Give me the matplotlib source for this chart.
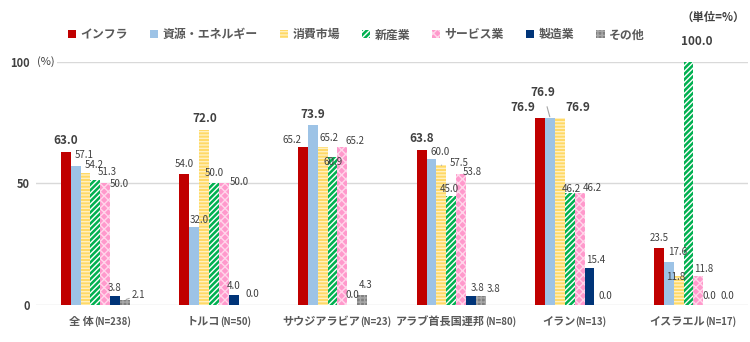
import matplotlib
matplotlib.use("Agg")
import matplotlib.pyplot as plt
from matplotlib.patches import Patch
from matplotlib.offsetbox import TextArea, HPacker, AnnotationBbox
import numpy as np

plt.rcParams['font.family'] = ['Noto Sans CJK JP', 'DejaVu Sans']
plt.rcParams['hatch.linewidth'] = 1.0

cat_names = ["全 体", "トルコ", "サウジアラビア", "アラブ首長国連邦", "イラン", "イスラエル"]
cat_n = ["(N=238)", "(N=50)", "(N=23)", "(N=80)", "(N=13)", "(N=17)"]
series = ["インフラ", "資源・エネルギー", "消費市場", "新産業", "サービス業", "製造業", "その他"]
infra = [63.0, 54.0, 65.2, 63.8, 76.9, 23.5]
resource = [57.1, 32.0, 73.9, 60.0, 76.9, 17.6]
consumer = [54.2, 72.0, 65.2, 57.5, 76.9, 11.8]
newind = [51.3, 50.0, 60.9, 45.0, 46.2, 100.0]
service = [50.0, 50.0, 65.2, 53.8, 46.2, 11.8]
manuf = [3.8, 4.0, 0.0, 3.8, 15.4, 0.0]
other = [2.1, 0.0, 4.3, 3.8, 0.0, 0.0]
values = [infra, resource, consumer, newind, service, manuf, other]

# styling
faces = ["#C00000", "#9DC3E6", "#FFD966", "#00B050", "#FF99CC", "#003478", "#808080"]
hatches = [None, None, "-----", "//////", "xxxx", None, "++++"]
hatchcols = ["#C00000", "#9DC3E6", "#FFF0C0", "#FFFFFF", "#FFD6EA", "#003478", "#A8A8A8"]
# label offsets (pixels: right, up from bar top to label centre), per group then series
label_off = [
    [(0, 11), (9, 11), (9, 8), (12, 8), (14, -1), (0, 8), (14, 5)],
    [(0, 10), (5, 7), (1, 11), (0, 10), (15, 1), (0, 9), (9, 11)],
    [(-11, 7), (0, 11), (6, 9), (0, -5), (13, 6), (0, 10), (4, 10)],
    [(0, 11), (9, 7), (18, 2), (-2, 7), (11, 2), (7, 8), (13, 7)],
    [(-17, 11), (-7, 26), (18, 11), (2, 4), (13, 5), (6, 8), (6, 9)],
    [(0, 10), (9, 10), (-3, -1), (8, 20), (5, 7), (1, 9), (9, 9)],
]
leaders = {(0, 6), (3, 2), (4, 1)}

fig = plt.figure(figsize=(7.5, 3.42), dpi=100)
ax = fig.add_axes([0.048, 0.108, 0.949, 0.711])

x = np.arange(len(cat_names))
w = 0.083
txtc = "#404040"
for i, (vals, fc, h, hc) in enumerate(zip(values, faces, hatches, hatchcols)):
    xs = x + (i - 3) * w
    ax.bar(xs, vals, w, color=fc, edgecolor=hc, hatch=h, linewidth=0, zorder=3, clip_on=False)

px = 0.72  # points per pixel at 100 dpi
for g in range(len(cat_names)):
    gvals = [v[g] for v in values]
    mx = max(gvals)
    for i, v in enumerate(gvals):
        xc = x[g] + (i - 3) * w
        bold = (v == mx)
        dx, dy = label_off[g][i]
        ap = None
        if (g, i) in leaders:
            ap = dict(arrowstyle="-", color="#A6A6A6", lw=0.8, shrinkA=4, shrinkB=1)
        ax.annotate(f"{v:.1f}", (xc, v), xytext=(dx * px, dy * px),
                    textcoords="offset points", ha="center", va="center",
                    fontsize=8.5 if bold else 7.0, fontweight="bold" if bold else "normal",
                    color=txtc, zorder=5, annotation_clip=False, arrowprops=ap)

ax.set_xlim(-0.5, 5.5)
ax.set_ylim(0, 100)
ax.set_yticks([0, 50, 100])
ax.set_xticks([])
ax.tick_params(axis="both", length=0, colors=txtc, labelsize=8)
ax.tick_params(axis="y", pad=4.5)
for lab in ax.get_yticklabels():
    lab.set_fontweight("bold")
for s in ax.spines.values():
    s.set_visible(False)
for yv in [0, 50, 100]:
    ax.axhline(yv, color="#D9D9D9", lw=1.0, zorder=1)

# category labels with smaller (N=..) part
for g, (nm, nn) in enumerate(zip(cat_names, cat_n)):
    t1 = TextArea(nm, textprops=dict(fontsize=8.0, color="#595959", fontweight="bold"))
    t2 = TextArea(nn, textprops=dict(fontsize=6.9, color="#595959", fontweight="bold"))
    box = HPacker(children=[t1, t2], pad=0, sep=0, align="baseline")
    ab = AnnotationBbox(box, (x[g] + 0.04, 0), xycoords=("data", "axes fraction"),
                        xybox=(0, -16 * px), boxcoords="offset points",
                        box_alignment=(0.5, 0.5), frameon=False, annotation_clip=False)
    ax.add_artist(ab)

fig.text(0.049, 0.819, "(%)", fontsize=8, color=txtc, va="center", ha="left",
         bbox=dict(facecolor="white", edgecolor="none", pad=2.0), zorder=10)
fig.text(0.993, 0.95, "（単位=%）", fontsize=8.2, color=txtc, fontweight="bold", va="center", ha="right")

handles = [Patch(facecolor=fc, edgecolor=hc, hatch=h, linewidth=0) for fc, h, hc in zip(faces, hatches, hatchcols)]
fig.legend(handles, series, loc="center left", bbox_to_anchor=(0.076, 0.898), ncol=7, frameon=False,
           handlelength=0.7, handleheight=0.7, handletextpad=0.35, columnspacing=1.85,
           labelcolor="#595959", prop={"weight": "bold", "size": 8.6})

fig.savefig("out.png", dpi=100)
